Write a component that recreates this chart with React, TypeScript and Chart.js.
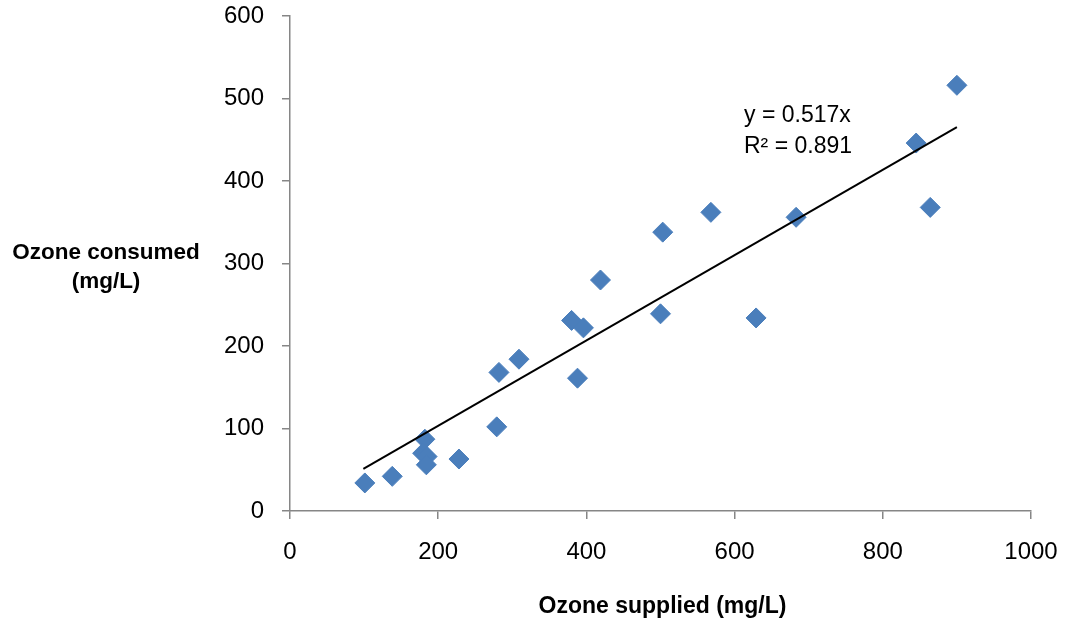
import React, { useEffect, useRef } from "react";
import { Chart, registerables } from "chart.js";

Chart.register(...registerables);

// Ozone supplied (mg/L)
const suppliedValues = [
  101, 138, 182, 179, 185, 184, 228, 279, 282, 309, 380, 396, 388, 419, 500,
  503, 568, 629, 683, 845, 864, 900,
];
// Ozone consumed (mg/L)
const consumedValues = [
  34, 42, 87, 70, 66, 56, 63, 102, 168, 184, 231, 222, 161, 280, 239, 338, 362,
  234, 356, 446, 368, 516,
];
// Linear trendline (through origin) endpoints
const trendX = [99, 900];
const trendY = [51.2, 465.3];
const trendLabels = ["y = 0.517x", "R\u00b2 = 0.891"];

const xTicks = [0, 200, 400, 600, 800, 1000];
const yTicks = [0, 100, 200, 300, 400, 500, 600];
const xTitle = "Ozone supplied (mg/L)";
const yTitleLines = ["Ozone consumed", "(mg/L)"];

const FONT = "'Liberation Sans', Arial, sans-serif";

export default function App() {
  const canvasRef = useRef<HTMLCanvasElement | null>(null);

  useEffect(() => {
    const canvas = canvasRef.current;
    if (!canvas) return;

    const textPlugin = {
      id: "textPlugin",
      afterDraw(chart: any) {
        const ctx = chart.ctx;
        ctx.save();
        ctx.fillStyle = "#000";
        ctx.font = `bold 22.5px ${FONT}`;
        ctx.textAlign = "center";
        ctx.textBaseline = "alphabetic";
        ctx.fillText(yTitleLines[0], 106, 259);
        ctx.fillText(yTitleLines[1], 106, 288);
        const area = chart.chartArea;
        ctx.font = `bold 23px ${FONT}`;
        ctx.fillText(xTitle, (area.left + area.right) / 2 + 2, 613);
        ctx.font = `23px ${FONT}`;
        ctx.textAlign = "left";
        ctx.fillText(trendLabels[0], 744, 122);
        ctx.fillText(trendLabels[1], 744, 153);
        ctx.restore();
      },
    };

    const zeroPad = (scale: any) => {
      scale.paddingTop = 0;
      scale.paddingBottom = 0;
      scale.paddingLeft = 0;
      scale.paddingRight = 0;
    };

    const chart = new Chart(canvas, {
      type: "scatter",
      data: {
        datasets: [
          {
            label: "Data",
            data: suppliedValues.map((x, i) => ({ x, y: consumedValues[i] })),
            pointStyle: "rectRot",
            pointRadius: 10,
            pointHoverRadius: 10,
            backgroundColor: "#4A7EBB",
            borderColor: "#4A7EBB",
            borderWidth: 1,
            order: 1,
          },
          {
            label: "Trend",
            type: "line",
            data: trendX.map((x, i) => ({ x, y: trendY[i] })),
            borderColor: "#000",
            borderWidth: 2,
            pointRadius: 0,
            fill: false,
            order: 0,
          } as any,
        ],
      },
      options: {
        responsive: false,
        animation: false,
        devicePixelRatio: 1,
        layout: { padding: { left: 0, right: 34, top: 16, bottom: 0 } },
        plugins: {
          legend: { display: false },
          tooltip: { enabled: false },
        },
        scales: {
          x: {
            type: "linear",
            min: 0,
            max: 1000,
            afterBuildTicks(scale: any) {
              scale.ticks = xTicks.map((v) => ({ value: v }));
            },
            afterFit(scale: any) {
              scale.height = 108;
              zeroPad(scale);
            },
            grid: {
              drawOnChartArea: false,
              drawTicks: true,
              tickLength: 8,
              color: "#868686",
              lineWidth: 1.5,
            },
            border: { display: true, color: "#868686", width: 1.5 },
            ticks: {
              color: "#000",
              font: { family: FONT, size: 24 },
              padding: 19,
              maxRotation: 0,
              callback: (v: any) => String(v),
            },
          },
          y: {
            type: "linear",
            min: 0,
            max: 600,
            afterBuildTicks(scale: any) {
              scale.ticks = yTicks.map((v) => ({ value: v }));
            },
            afterFit(scale: any) {
              scale.width = 290;
              zeroPad(scale);
            },
            grid: {
              drawOnChartArea: false,
              drawTicks: true,
              tickLength: 8,
              color: "#868686",
              lineWidth: 1.5,
            },
            border: { display: true, color: "#868686", width: 1.5 },
            ticks: {
              color: "#000",
              font: { family: FONT, size: 24 },
              padding: 18,
              callback: (v: any) => String(v),
            },
          },
        },
      },
      plugins: [textPlugin],
    });

    return () => {
      chart.destroy();
    };
  }, []);

  return (
    <div
      style={{
        position: "fixed",
        left: 0,
        top: 0,
        width: 1065,
        height: 619,
        background: "#fff",
      }}
    >
      <canvas ref={canvasRef} width={1065} height={619} />
    </div>
  );
}
